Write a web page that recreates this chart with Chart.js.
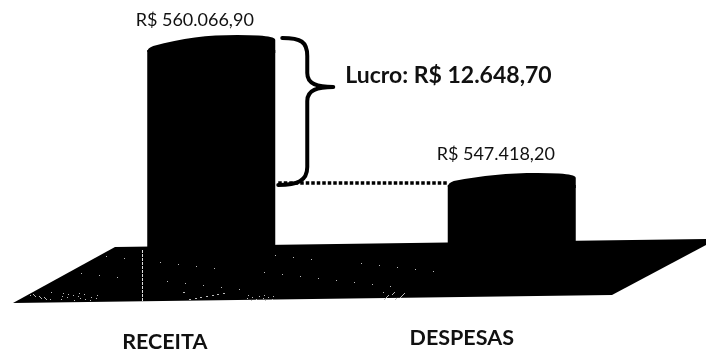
<!DOCTYPE html>
<html><head><meta charset="utf-8">
<style>html,body{margin:0;padding:0;background:#fff}#w{width:706px;height:355px}</style>
<script src="https://cdn.jsdelivr.net/npm/chart.js@4"></script>
</head><body><div id="w"><canvas id="c" width="706" height="355"></canvas></div>
<script>
const categories = ["RECEITA", "DESPESAS"];
const values = [560066.90, 547418.20];
const valueLabels = ["R$ 560.066,90", "R$ 547.418,20"];
const profitLabel = "Lucro: R$ 12.648,70";
const FONT = 'Lato, "Open Sans", sans-serif';

const scene = {
  id: "scene",
  beforeDatasetsDraw(chart) {
    const c = chart.ctx;
    c.save();
    c.fillStyle = "#000";
    c.beginPath();
    c.moveTo(115, 247); c.lineTo(706, 239); c.lineTo(706, 245); c.lineTo(612, 295); c.lineTo(13, 303);
    c.closePath(); c.fill();
    // scan noise on the floor
    const inside = (x, y) => x > 13 + (303 - y) * 1.83 && y < 301 && y > 249 && x < 440;
    c.fillStyle = "#bbb";
    const clusters = [[24, 292, 28], [60, 293, 40], [180, 292, 45], [245, 295, 30], [380, 292, 25]];
    clusters.forEach(([cx, cy, w]) => {
      for (let i = 0; i < 16; i++) {
        const x = cx + (i * 17 + 3) % w;
        const y = cy + (i * 5) % 8;
        if (inside(x, y)) c.fillRect(x, y, 1, 1);
      }
    });
    for (let i = 0; i < 34; i++) {
      const x = 70 + (i * 97) % 370;
      const y = 252 + (i * 29) % 38;
      if (inside(x, y)) c.fillRect(x, y, 1, 1);
    }
    c.strokeStyle = "#ddd"; c.lineWidth = 1; c.setLineDash([3, 1]);
    c.beginPath(); c.moveTo(142.5, 250); c.lineTo(142.5, 301); c.stroke();
    c.restore();
  },
  afterDatasetsDraw(chart) {
    const c = chart.ctx;
    const [a, b] = chart.getDatasetMeta(0).data;
    const dome = (bar, rise, tilt) => {
      const l = bar.x - bar.width / 2, r = bar.x + bar.width / 2, y = bar.y;
      c.beginPath();
      c.moveTo(l, y + 2);
      c.quadraticCurveTo(l, y - 2, l + 6, y - 4);
      c.bezierCurveTo(l + 35, y - rise * 0.8, l + 60, y - rise, r - 38, y - rise);
      c.quadraticCurveTo(r - 12, y - rise, r - 5, y - rise + 2);
      c.quadraticCurveTo(r, y - rise + 3, r, y - tilt);
      c.lineTo(r, y + 3); c.closePath(); c.fill();
    };
    c.save();
    c.fillStyle = "#000";
    dome(a, 15, 10);
    dome(b, 12, 7);

    // dotted link between the two bar tops
    const ar = a.x + a.width / 2, bl = b.x - b.width / 2;
    c.strokeStyle = "#000"; c.lineWidth = 3.5; c.setLineDash([3.5, 2]);
    c.beginPath(); c.moveTo(ar + 3, b.y - 2); c.lineTo(bl, b.y - 2); c.stroke();
    c.setLineDash([]);

    // brace spanning the difference
    const top = a.y - 12, bot = b.y, sx = ar + 7, mx = sx + 25, tip = sx + 51, my = top + 49;
    c.lineWidth = 4; c.lineCap = "round"; c.lineJoin = "round";
    c.beginPath();
    c.moveTo(sx, top);
    c.bezierCurveTo(mx - 6, top, mx, top + 4, mx, top + 18);
    c.lineTo(mx, my - 14);
    c.bezierCurveTo(mx, my - 3, mx + 10, my, tip, my);
    c.bezierCurveTo(mx + 10, my, mx, my + 3, mx, my + 14);
    c.lineTo(mx, bot - 18);
    c.bezierCurveTo(mx, bot - 4, mx - 10, bot, sx - 4, bot);
    c.stroke();

    // text
    c.fillStyle = "#111"; c.textBaseline = "middle";
    c.textAlign = "center";
    c.font = "18px " + FONT;
    c.fillText(valueLabels[0], a.x - 16.5, 20);
    c.fillText(valueLabels[1], b.x - 16, 154);
    c.font = "bold 21.5px " + FONT;
    c.fillText(categories[0], a.x - 46.5, 342.5);
    c.fillText(categories[1], b.x - 50, 338);
    c.textAlign = "left";
    c.font = "bold 23px " + FONT;
    c.fillText(profitLabel, tip + 12, my - 11);
    c.restore();
  }
};

new Chart(document.getElementById("c"), {
  type: "bar",
  data: { labels: categories, datasets: [{ data: values, backgroundColor: "#000", borderWidth: 0,
    barPercentage: 0.426, categoryPercentage: 1 }] },
  options: {
    responsive: false, animation: false,
    layout: { padding: { left: 61, right: 44, top: 20, bottom: 100 } },
    plugins: { legend: { display: false }, tooltip: { enabled: false } },
    scales: {
      x: { display: false },
      y: { display: false, min: 540860, max: 562878 }
    }
  },
  plugins: [scene]
});
</script></body></html>
